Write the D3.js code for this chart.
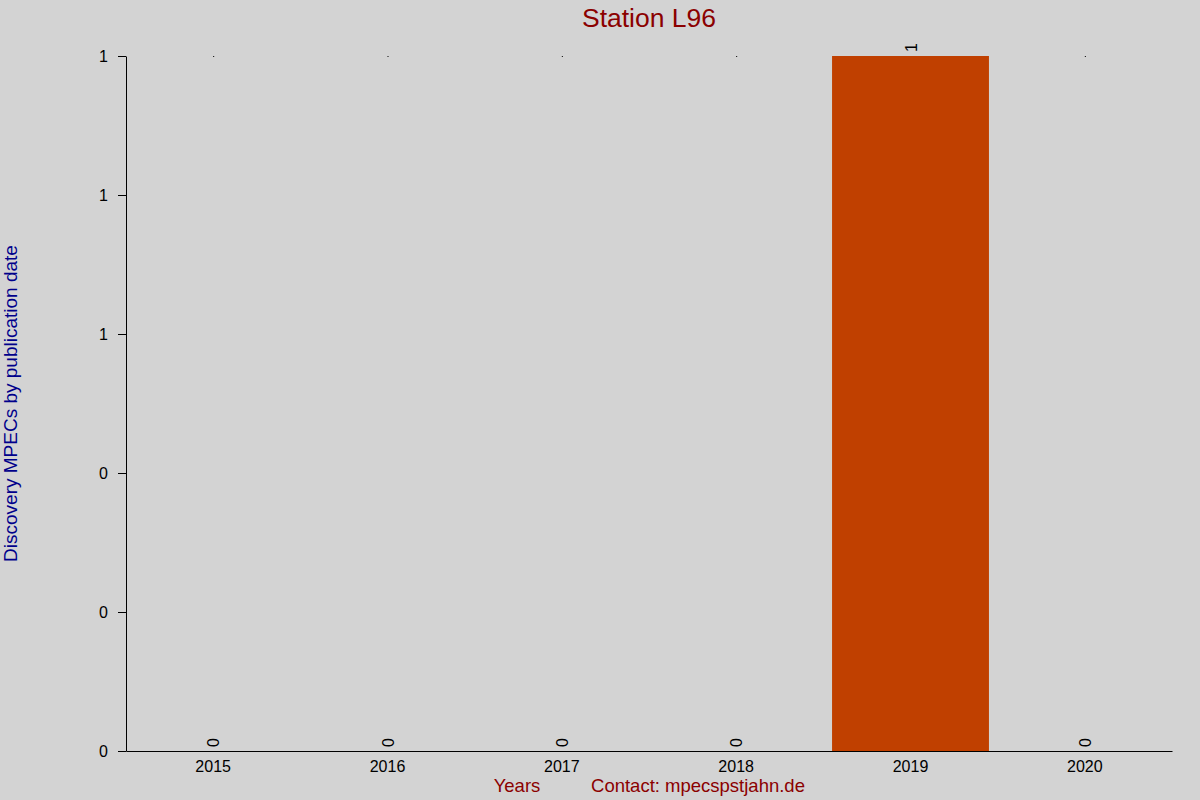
<!DOCTYPE html>
<html>
<head>
<meta charset="utf-8">
<script src="https://cdn.jsdelivr.net/npm/d3@7"></script>
<style>
  body { margin: 0; background: #d3d3d3; }
  svg { display: block; font-family: "Liberation Sans", Arial, sans-serif; }
</style>
</head>
<body>
<div id="chart"></div>
<script>
const years = ["2015", "2016", "2017", "2018", "2019", "2020"];
const counts = [0, 0, 0, 0, 1, 0];
const yTicks = [0, 0.2, 0.4, 0.6, 0.8, 1];

const width = 1200;
const height = 800;
const margin = { top: 56, right: 28, bottom: 49, left: 126 };
const font = "Liberation Sans, Arial, sans-serif";

const svg = d3.select("#chart")
  .append("svg")
  .attr("width", width)
  .attr("height", height);

svg.append("rect")
  .attr("width", width)
  .attr("height", height)
  .attr("fill", "#d3d3d3");

const x = d3.scaleBand()
  .domain(years)
  .range([margin.left, width - margin.right])
  .paddingInner(0.1)
  .paddingOuter(0.05);

const xc = d3.scaleBand()
  .domain(years)
  .range([margin.left, width - margin.right]);

const y = d3.scaleLinear()
  .domain([0, d3.max(counts)])
  .range([height - margin.bottom, margin.top]);

// bars
svg.selectAll(".bar")
  .data(years)
  .enter().append("rect")
  .attr("class", "bar")
  .attr("x", d => x(d))
  .attr("y", (d, i) => y(counts[i]))
  .attr("width", x.bandwidth())
  .attr("height", (d, i) => y(0) - y(counts[i]))
  .attr("fill", "#c04000");

// little marks at the top of each empty column
svg.selectAll(".dot")
  .data(years.filter((d, i) => counts[i] === 0))
  .enter().append("rect")
  .attr("x", d => xc(d) + xc.bandwidth() / 2)
  .attr("y", y(1))
  .attr("width", 1)
  .attr("height", 1)
  .attr("fill", "#000");

// value labels
svg.selectAll(".val")
  .data(years)
  .enter().append("text")
  .attr("class", "val")
  .attr("transform", (d, i) => `translate(${xc(d) + xc.bandwidth() / 2 + 6},${y(counts[i]) - 4}) rotate(-90)`)
  .attr("font-size", 16)
  .attr("font-family", font)
  .attr("fill", "#000")
  .text((d, i) => counts[i]);

// y axis
svg.append("g")
  .attr("transform", `translate(${margin.left},0)`)
  .call(d3.axisLeft(y).tickValues(yTicks).tickFormat(d3.format(".0f")).tickSize(8).tickSizeOuter(0))
  .call(g => g.selectAll("text").attr("font-size", 16).attr("fill", "#000").attr("x", -18).attr("font-family", font))
  .call(g => g.selectAll("line, path").attr("stroke", "#000"));

// x axis
svg.append("g")
  .attr("transform", `translate(0,${height - margin.bottom})`)
  .call(d3.axisBottom(xc).tickSize(0).tickSizeOuter(0))
  .call(g => g.select(".domain").attr("stroke", "#000"))
  .call(g => g.selectAll("text").attr("font-size", 16).attr("fill", "#000").attr("dy", "1.15em").attr("font-family", font));

// title
svg.append("text")
  .attr("x", 649)
  .attr("y", 27)
  .attr("text-anchor", "middle")
  .attr("font-size", 26.5)
  .attr("fill", "#8b0000")
  .text("Station L96");

// y label
svg.append("text")
  .attr("transform", `translate(17,${(margin.top + height - margin.bottom) / 2}) rotate(-90)`)
  .attr("text-anchor", "middle")
  .attr("font-size", 19)
  .attr("fill", "#00008b")
  .text("Discovery MPECs by publication date");

// x labels
svg.append("text")
  .attr("x", 517)
  .attr("y", 792)
  .attr("text-anchor", "middle")
  .attr("font-size", 18.5)
  .attr("fill", "#8b0000")
  .text("Years");

svg.append("text")
  .attr("x", 698)
  .attr("y", 792)
  .attr("text-anchor", "middle")
  .attr("font-size", 18.5)
  .attr("fill", "#8b0000")
  .text("Contact: mpecspstjahn.de");
</script>
</body>
</html>
